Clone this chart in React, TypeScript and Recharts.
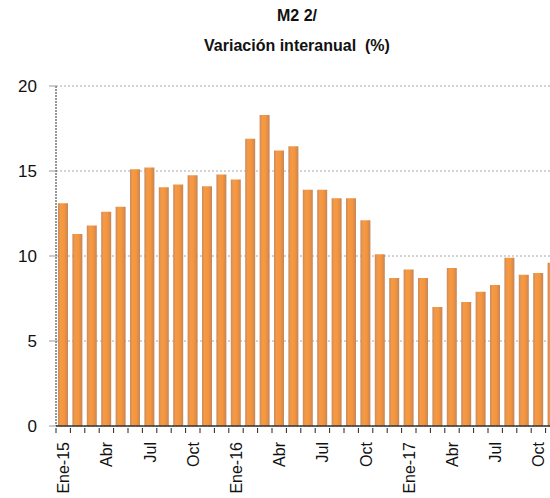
import React from 'react'
import { BarChart, Bar, XAxis, YAxis, CartesianGrid } from 'recharts'

const months = [
  'Ene-15', 'Feb', 'Mar', 'Abr', 'May', 'Jun', 'Jul', 'Ago', 'Sep', 'Oct', 'Nov', 'Dic',
  'Ene-16', 'Feb', 'Mar', 'Abr', 'May', 'Jun', 'Jul', 'Ago', 'Sep', 'Oct', 'Nov', 'Dic',
  'Ene-17', 'Feb', 'Mar', 'Abr', 'May', 'Jun', 'Jul', 'Ago', 'Sep', 'Oct', 'Nov',
]
const m2 = [
  13.1, 11.3, 11.8, 12.6, 12.9, 15.1, 15.2, 14.05, 14.2, 14.75, 14.1, 14.8,
  14.5, 16.9, 18.3, 16.2, 16.45, 13.9, 13.9, 13.4, 13.4, 12.1, 10.1, 8.7,
  9.2, 8.7, 7.0, 9.3, 7.3, 7.9, 8.3, 9.9, 8.9, 9.0, 9.6,
]
const yTicks = [0, 5, 10, 15, 20]

const data = months.map((m, i) => ({ key: i, label: m, value: m2[i] }))

const BAND = 14.4
const FONT = 'Liberation Sans, Arial, sans-serif'

const MonthTick = (props: any) => {
  const { x, y, payload } = props
  const i = payload.value as number
  const show = i % 3 === 0
  return (
    <g>
      <line x1={x - BAND / 2} x2={x - BAND / 2} y1={y - 6} y2={y - 1} stroke="#222" strokeWidth={1} />
      {show && (
        <text
          transform={`translate(${x + 6},${y + 8}) rotate(-90)`}
          textAnchor="end"
          fontSize={16}
          fontFamily={FONT}
          fill="#111"
        >
          {months[i]}
        </text>
      )}
    </g>
  )
}

const App = () => {
  return (
    <div style={{ position: 'absolute', left: 0, top: 0, width: 550, height: 498, overflow: 'hidden', background: '#fff' }}>
      <svg width={550} height={80} style={{ position: 'absolute', left: 0, top: 0 }}>
        <text x={297} y={21} textAnchor="middle" fontSize={16} fontWeight="bold" fontFamily={FONT} fill="#111">
          M2 2/
        </text>
        <text x={297} y={51} textAnchor="middle" fontSize={16} fontWeight="bold" fontFamily={FONT} fill="#111">
          {'Variación interanual\u00a0 (%)'}
        </text>
      </svg>
      <div style={{ position: 'absolute', left: 0, top: 0 }}>
        <BarChart
          width={560}
          height={498}
          data={data}
          margin={{ top: 86, right: 0, left: 0, bottom: 0 }}
          barCategoryGap={4}
        >
          <defs>
            <linearGradient id="barFill" x1="0" y1="0" x2="1" y2="0">
              <stop offset="0%" stopColor="#c98a5c" />
              <stop offset="25%" stopColor="#f39a48" />
              <stop offset="60%" stopColor="#f7963a" />
              <stop offset="100%" stopColor="#c5855a" />
            </linearGradient>
          </defs>
          <CartesianGrid vertical={false} stroke="#a8a8a8" strokeDasharray="2 2" />
          <XAxis
            dataKey="key"
            type="category"
            interval={0}
            height={72}
            tick={<MonthTick />}
            tickLine={false}
            axisLine={{ stroke: '#333', strokeWidth: 1.5 }}
          />
          <YAxis
            domain={[0, 20]}
            ticks={yTicks}
            width={56}
            tickSize={7}
            tickMargin={12}
            tickLine={{ stroke: '#999' }}
            axisLine={{ stroke: '#333', strokeDasharray: '2 1' }}
            tick={{ fontSize: 17, fill: '#111', fontFamily: FONT }}
          />
          <Bar dataKey="value" fill="url(#barFill)" barSize={10} isAnimationActive={false} />
        </BarChart>
      </div>
    </div>
  )
}

export default App
